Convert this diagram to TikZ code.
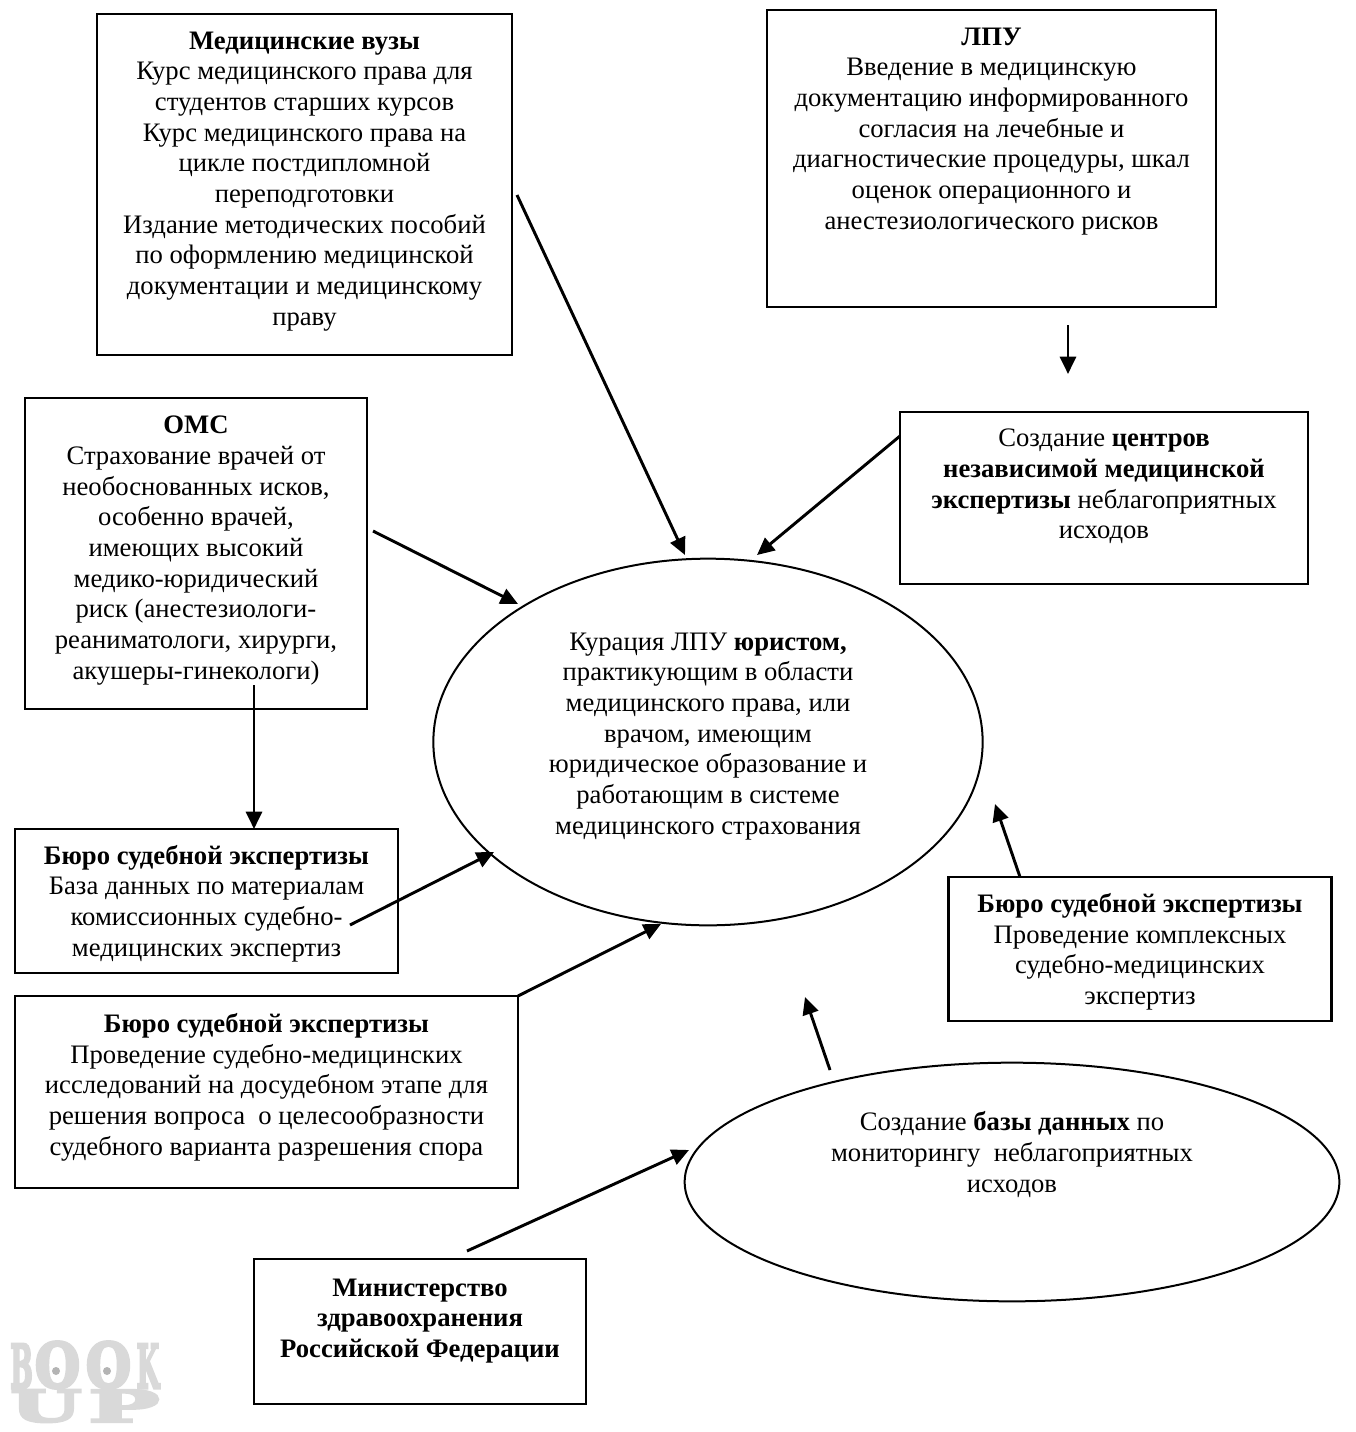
\documentclass[tikz,border=0pt]{standalone}
\usepackage{fontspec}
\usepackage{graphicx}
\setmainfont{Liberation Serif}
\newfontfamily\logofont[BoldFeatures={FakeBold=5},UprightFeatures={FakeBold=5}]{DejaVu Serif}
\usetikzlibrary{arrows.meta,shapes.geometric}
\tikzset{
  px/.style={x=0.75pt,y=-0.75pt},
  txt/.style={font=\fontsize{20}{23}\selectfont,align=center,inner sep=0pt},
  boxn/.style={txt,draw=black,line width=1.8pt,rectangle,fill=white},
  ell/.style={txt,draw=black,line width=1.5pt,ellipse,fill=white},
  conn/.style={draw=black,line width=2.2pt,-{Triangle[length=13pt,width=12pt]}},
  logo/.style={inner sep=0pt,text=logogray},
}
\definecolor{logogray}{HTML}{D9D9D9}
\definecolor{logodot}{HTML}{B4B4B4}
\begin{document}
\begin{tikzpicture}[px]
\useasboundingbox (0,0) rectangle (1356,1432);
\fill[white] (0,0) rectangle (1356,1432);

% logo
\node[logo] (lb) at (21.5,1366) {\resizebox{17pt}{33pt}{\logofont\bfseries B}};
\node[logo] (lo1) at (57.5,1365) {\resizebox{34pt}{34.5pt}{\logofont\bfseries O}};
\node[logo] (lo2) at (108.5,1365) {\resizebox{34pt}{34.5pt}{\logofont\bfseries O}};
\node[logo] (lk) at (148,1366) {\resizebox{17pt}{33pt}{\logofont\bfseries K}};
\node[logo] (lu) at (46,1406) {\resizebox{53pt}{24pt}{\logofont\bfseries U}};
\node[logo] (lp) at (124,1406) {\resizebox{53pt}{24pt}{\logofont\bfseries P}};
\fill[logodot] (56,1371) circle (3pt);
\fill[logodot] (107,1371) circle (3pt);

% rectangles
\node[boxn,minimum width=311pt,minimum height=255.5pt,text depth=9pt] (vuz) at (304.5,184.5) {\textbf{Медицинские вузы}\\Курс медицинского права для\\студентов старших курсов\\Курс медицинского права на\\цикле постдипломной\\переподготовки\\Издание методических пособий\\по оформлению медицинской\\документации и медицинскому\\праву};
\node[boxn,minimum width=336.5pt,minimum height=222.5pt,text depth=45pt] (lpu) at (991.5,158.5) {\textbf{ЛПУ}\\Введение в медицинскую\\документацию информированного\\согласия на лечебные и\\диагностические процедуры, шкал\\оценок операционного и\\анестезиологического рисков};
\node[boxn,minimum width=256.5pt,minimum height=233pt,text depth=9pt] (oms) at (196,553.5) {\textbf{ОМС}\\Страхование врачей от\\необоснованных исков,\\особенно врачей,\\имеющих высокий\\медико-юридический\\риск (анестезиологи-\\реаниматологи, хирурги,\\акушеры-гинекологи)};
\node[boxn,minimum width=306pt,minimum height=129pt,text depth=21pt] (cen) at (1104,498) {Создание \textbf{центров}\\\textbf{независимой медицинской}\\\textbf{экспертизы} неблагоприятных\\исходов};
\node[boxn,minimum width=287pt,minimum height=108pt,text depth=0.5pt] (bsa) at (206.5,901) {\textbf{Бюро судебной экспертизы}\\База данных по материалам\\комиссионных судебно-\\медицинских экспертиз};
\node[boxn,minimum width=377pt,minimum height=144pt,text depth=11.5pt] (bsb) at (266.5,1092) {\textbf{Бюро судебной экспертизы}\\Проведение судебно-медицинских\\исследований на досудебном этапе для\\решения вопроса\ \ о целесообразности\\судебного варианта разрешения спора};
\node[boxn,minimum width=287pt,minimum height=108pt,text depth=0pt] (bsc) at (1140,949) {\textbf{Бюро судебной экспертизы}\\Проведение комплексных\\судебно-медицинских\\экспертиз};
\node[boxn,minimum width=249pt,minimum height=108.5pt,text depth=20pt] (min) at (420,1331.5) {\textbf{Министерство}\\\textbf{здравоохранения}\\\textbf{Российской Федерации}};

% ellipses
\node[ell,minimum width=412pt,minimum height=275pt,text depth=13pt] (main) at (708,742) {Курация ЛПУ \textbf{юристом,}\\практикующим в области\\медицинского права, или\\врачом, имеющим\\юридическое образование и\\работающим в системе\\медицинского страхования};
\node[ell,minimum width=491pt,minimum height=179pt,text depth=45pt] (base) at (1012,1182) {Создание \textbf{базы данных} по\\мониторингу\ \ неблагоприятных\\исходов};

% free ends
\coordinate (a1s) at (517,195); \coordinate (a1e) at (685,555);
\coordinate (a2s) at (1068,325); \coordinate (a2e) at (1068,374);
\coordinate (a3s) at (900,436); \coordinate (a3e) at (757,555);
\coordinate (a4s) at (373,531); \coordinate (a4e) at (518,604);
\coordinate (a5s) at (254,685); \coordinate (a5e) at (254,829);
\coordinate (a6s) at (350,925); \coordinate (a6e) at (494,852);
\coordinate (a7s) at (518,996); \coordinate (a7e) at (661,924);
\coordinate (a8s) at (1020,877); \coordinate (a8e) at (995,804);
\coordinate (a9s) at (830,1070); \coordinate (a9e) at (805,997);
\coordinate (a10s) at (467,1251); \coordinate (a10e) at (689,1150);

\draw[conn] (a1s) -- (a1e);
\draw[conn] (a2s) -- (a2e);
\draw[conn] (a3s) -- (a3e);
\draw[conn] (a4s) -- (a4e);
\draw[conn] (a5s) -- (a5e);
\draw[conn] (a6s) -- (a6e);
\draw[conn] (a7s) -- (a7e);
\draw[conn] (a8s) -- (a8e);
\draw[conn] (a9s) -- (a9e);
\draw[conn] (a10s) -- (a10e);
\end{tikzpicture}
\end{document}
